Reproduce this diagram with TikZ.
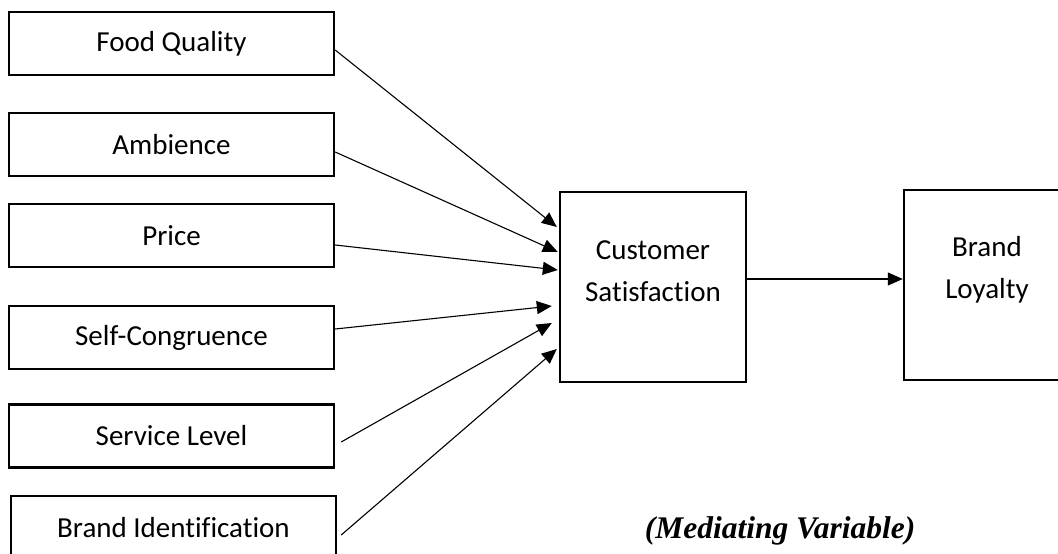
\documentclass[tikz,border=0pt]{standalone}
\usepackage{fontspec}
\setmainfont{Carlito}[Ligatures={NoCommon}]
\newfontfamily\timesfont{Liberation Serif}
\usetikzlibrary{arrows.meta}
\begin{document}
\begin{tikzpicture}[x=1pt,y=-1pt,
  box/.style={draw, line width=2.4pt, rectangle, inner sep=0pt, minimum width=325pt, minimum height=63pt, font=\fontsize{29}{42}\selectfont},
  bigbox/.style={draw, line width=2.4pt, rectangle, inner sep=0pt},
  lbl/.style={font=\fontsize{29}{42}\selectfont, align=center, inner sep=0pt},
  conn/.style={-{Triangle[length=15pt,width=13pt]}, line width=1.1pt}]
\useasboundingbox (0,0) rectangle (1058,554);
\clip (0,0) rectangle (1058,554);
\node[box] (fq) at (171.5,43.5) {Food Quality};
\node[box] (amb) at (171.5,144.5) {Ambience};
\node[box] (pr) at (171.5,235.5) {Price};
\node[box] (sc) at (171.5,337.5) {Self-Congruence};
\node[box] (sl) at (171.5,436) {Service Level};
\node[box] (bi) at (173.5,527.5) {Brand Identification};
\node[bigbox, minimum width=186pt, minimum height=190pt] (cs) at (653,287) {};
\node[lbl] (cst) at (653,271) {Customer\\Satisfaction};
\node[bigbox, minimum width=166pt, minimum height=190pt] (bl) at (987,285) {};
\node[lbl] (blt) at (987,270) {Brand\\Loyalty};
\node[font=\timesfont\bfseries\itshape\fontsize{31.5}{36}\selectfont, anchor=base, inner sep=0pt] (mv) at (780,538) {(Mediating Variable)};
\draw[conn] ([yshift=-6.5pt]fq.east) -- ([xshift=-2pt,yshift=60pt]cs.west);
\draw[conn] ([yshift=-7.5pt]amb.east) -- ([xshift=-1pt,yshift=35pt]cs.west);
\draw[conn] ([yshift=-9.5pt]pr.east) -- ([xshift=-1pt,yshift=17pt]cs.west);
\draw[conn] ([yshift=8.5pt]sc.east) -- ([xshift=-7pt,yshift=-19pt]cs.west);
\draw[conn] ([xshift=6pt,yshift=-6pt]sl.east) -- ([xshift=-7pt,yshift=-36pt]cs.west);
\draw[conn] ([xshift=4pt,yshift=-7.5pt]bi.east) -- ([xshift=-2pt,yshift=-62pt]cs.west);
\coordinate (m) at ([yshift=8pt]cs.east);
\draw[conn] (m) -- (m -| bl.west);
\end{tikzpicture}
\end{document}
